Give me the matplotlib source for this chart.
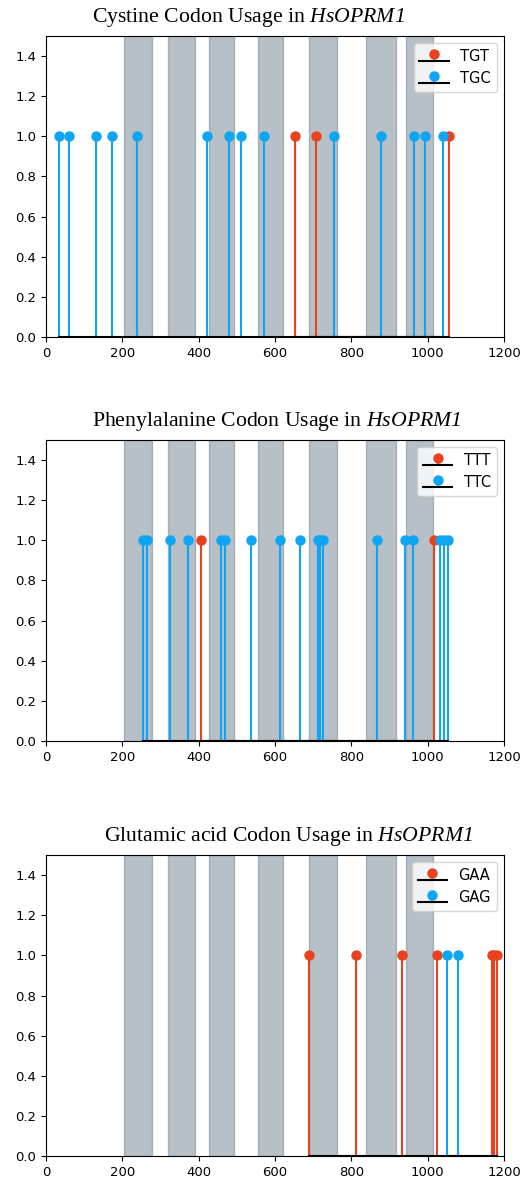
import matplotlib
matplotlib.use("Agg")
import matplotlib.pyplot as plt
import numpy as np

plt.rcParams["mathtext.fontset"] = "custom"
plt.rcParams["mathtext.rm"] = "Liberation Serif:italic"
plt.rcParams["mathtext.it"] = "Liberation Serif:italic"
plt.rcParams["mathtext.bf"] = "Liberation Serif:bold"

# Transmembrane-like shaded regions (start, end)
bands = [(205, 278), (319, 391), (427, 493), (556, 620), (690, 763), (838, 917), (942, 1013)]

# Cystine
cys_tgt = [652, 707, 1057]
cys_tgc = [35, 61, 131, 172, 238, 423, 479, 512, 572, 755, 878, 965, 992, 1039]

# Phenylalanine
phe_ttt = [407, 1016]
phe_ttc = [255, 264, 325, 371, 458, 470, 536, 614, 666, 713, 719, 726, 868, 941, 962, 1031, 1043, 1054]

# Glutamic acid
glu_gaa = [690, 812, 932, 1025, 1168, 1175, 1182]
glu_gag = [1050, 1080]

panels = [
    ("Cystine", "TGT", cys_tgt, "TGC", cys_tgc),
    ("Phenylalanine", "TTT", phe_ttt, "TTC", phe_ttc),
    ("Glutamic acid", "GAA", glu_gaa, "GAG", glu_gag),
]
title_x = [0.442, 0.504, 0.529]

RED = "#e8431e"
BLUE = "#0ea6f2"

fig = plt.figure(figsize=(5.27, 11.8), dpi=100)
left, width = 0.0873, 0.8691
bottoms = [0.7144, 0.372, 0.0203]
height = 0.2551

for (name, l1, x1, l2, x2), b, tx in zip(panels, bottoms, title_x):
    ax = fig.add_axes([left, b, width, height])
    for s, e in bands:
        ax.axvspan(s, e, color="slategray", alpha=0.5, zorder=0)
    for xs, lab, col in [(x1, l1, RED), (x2, l2, BLUE)]:
        ml, sl, bl = ax.stem(xs, np.ones(len(xs)), linefmt="-", markerfmt="o", basefmt="k-", label=lab)
        ml.set_color(col)
        ml.set_markersize(6.5)
        sl.set_color(col)
        sl.set_linewidth(1.5)
        bl.set_color("black")
        bl.set_linewidth(1.5)
    ax.set_xlim(0, 1200)
    ax.set_ylim(0, 1.5)
    ax.set_xticks([0, 200, 400, 600, 800, 1000, 1200])
    ax.set_yticks([0.0, 0.2, 0.4, 0.6, 0.8, 1.0, 1.2, 1.4])
    ax.tick_params(labelsize=9.5)
    ax.set_title(name + " Codon Usage in $HsOPRM1$", fontsize=15.7,
                 family="Liberation Serif", pad=10, x=tx)
    ax.legend(loc="upper right", fontsize=10.5)

fig.savefig("out.png", dpi=100)
